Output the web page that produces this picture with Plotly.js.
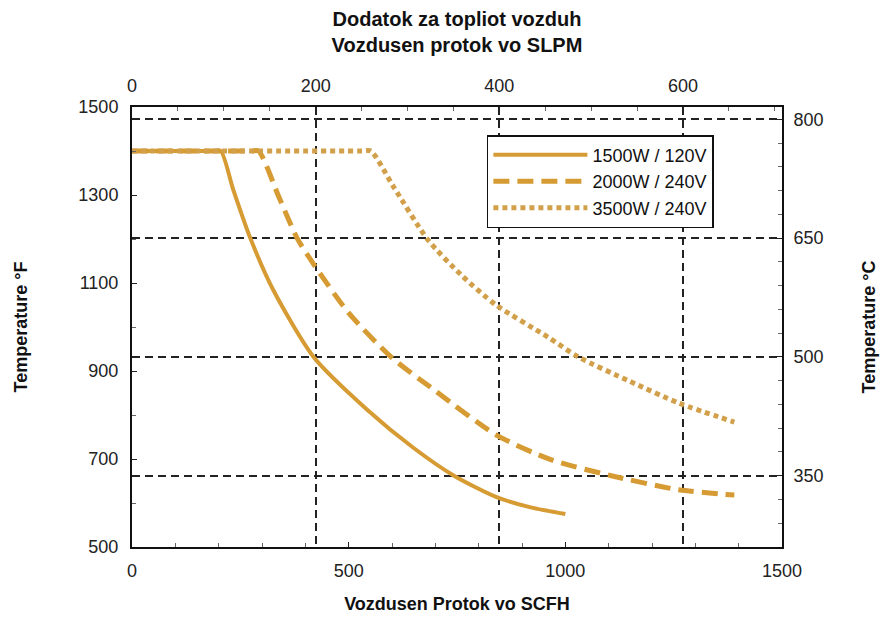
<!DOCTYPE html>
<html>
<head>
<meta charset="utf-8">
<script src="https://cdn.plot.ly/plotly-3.0.1.min.js"></script>
<style>html,body{margin:0;padding:0;background:#fff;}#chart{width:883px;height:624px;}</style>
</head>
<body>
<div id="chart"></div>
<script>
// Flow in SCFH (bottom axis), temperature in °F (left axis)
const seriesNames = ["1500W / 120V", "2000W / 240V", "3500W / 240V"];

const flow1500 = [0, 190, 205, 234, 273, 326, 419, 544, 650, 743, 840, 920, 1000];
const temp1500 = [1400, 1400, 1400, 1311, 1202, 1084, 932, 811, 725, 662, 614, 590, 575];

const flow2000 = [0, 275, 292, 340, 381, 419, 500, 600, 700, 840, 968, 1106, 1262, 1390];
const temp2000 = [1400, 1400, 1400, 1293, 1202, 1143, 1032, 930, 855, 755, 698, 662, 630, 618];

const flow3500 = [0, 530, 551, 604, 683, 760, 840, 960, 1030, 1150, 1262, 1390];
const temp3500 = [1400, 1400, 1400, 1318, 1198, 1118, 1050, 977, 932, 876, 827, 784];

// axis ranges and unit conversions
const scfhRange = [0, 1500];
const fRange = [500, 1500];
const SCFH_TO_SLPM = 0.4719;
const fToC = f => (f - 32) / 1.8;

const lineColor = "#D69B33";
const font = "Liberation Sans, Arial, sans-serif";

const traces = [
  {x: flow1500, y: temp1500, name: seriesNames[0], mode: "lines",
   line: {color: lineColor, width: 4, shape: "spline", smoothing: 0.7}},
  {x: flow2000, y: temp2000, name: seriesNames[1], mode: "lines",
   line: {color: lineColor, width: 5, dash: "16px,8px", shape: "spline", smoothing: 0.7}},
  {x: flow3500, y: temp3500, name: seriesNames[2], mode: "lines",
   line: {color: "#D2A04A", width: 5, dash: "5px,4px", shape: "spline", smoothing: 0.7}},
  // empty traces so the secondary (SLPM / °C) axes are drawn
  {x: [], y: [], xaxis: "x2", yaxis: "y", showlegend: false, hoverinfo: "skip"},
  {x: [], y: [], xaxis: "x", yaxis: "y2", showlegend: false, hoverinfo: "skip"}
];

const tickFont = {family: font, size: 18, color: "#222"};
const titleFont = {family: font, size: 18, color: "#111", weight: 700};

const layout = {
  width: 883, height: 624,
  margin: {l: 132, r: 101, t: 107, b: 77},
  paper_bgcolor: "#fff", plot_bgcolor: "#fff",
  showlegend: true,
  legend: {
    x: 0.546, y: 0.936, xanchor: "left", yanchor: "top",
    bordercolor: "#111", borderwidth: 1.5, bgcolor: "#fff",
    font: {family: font, size: 18, color: "#111"},
    itemwidth: 94, tracegroupgap: 0
  },
  xaxis: {
    range: scfhRange, side: "bottom", anchor: "y",
    tick0: 0, dtick: 500, ticks: "inside", ticklen: 5, tickcolor: "#222",
    minor: {dtick: 100, ticks: "inside", ticklen: 4, tickcolor: "#666", showgrid: false},
    showline: true, linecolor: "#111", linewidth: 2,
    showgrid: false, zeroline: false,
    tickfont: tickFont, ticklabelstandoff: 6,
    title: {text: "Vozdusen Protok vo SCFH", font: titleFont, standoff: 18}
  },
  xaxis2: {
    range: [scfhRange[0] * SCFH_TO_SLPM, scfhRange[1] * SCFH_TO_SLPM],
    overlaying: "x", side: "top", anchor: "y",
    tick0: 0, dtick: 200, ticks: "inside", ticklen: 5, tickcolor: "#222",
    minor: {dtick: 50, ticks: "inside", ticklen: 4, tickcolor: "#666", showgrid: false},
    showline: true, linecolor: "#111", linewidth: 2,
    showgrid: true, gridcolor: "#222", gridwidth: 2, griddash: "8px,5px",
    zeroline: false,
    tickfont: tickFont, ticklabelstandoff: 6,
    title: {text: "Dodatok za topliot vozduh<br>Vozdusen protok vo SLPM",
            font: {family: font, size: 20, color: "#111", weight: 700}, standoff: 18}
  },
  yaxis: {
    range: fRange, side: "left", anchor: "x",
    tick0: 500, dtick: 200, ticks: "inside", ticklen: 5, tickcolor: "#222",
    minor: {dtick: 100, ticks: "inside", ticklen: 4, tickcolor: "#666", showgrid: false},
    showline: true, linecolor: "#111", linewidth: 2,
    showgrid: false, zeroline: false,
    tickfont: tickFont, ticklabelstandoff: 8,
    title: {text: "Temperature °F", font: titleFont, standoff: 46}
  },
  yaxis2: {
    range: [fToC(fRange[0]), fToC(fRange[1])],
    overlaying: "y", side: "right", anchor: "x",
    tick0: 350, dtick: 150, ticks: "inside", ticklen: 5, tickcolor: "#222",
    minor: {tick0: 350, dtick: 30, ticks: "inside", ticklen: 4, tickcolor: "#666", showgrid: false},
    showline: true, linecolor: "#111", linewidth: 2,
    showgrid: true, gridcolor: "#222", gridwidth: 2, griddash: "8px,5px",
    zeroline: false,
    tickfont: tickFont, ticklabelstandoff: 6,
    title: {text: "Temperature °C", font: titleFont, standoff: 40}
  }
};

Plotly.newPlot("chart", traces, layout, {displayModeBar: false, staticPlot: true});
</script>
</body>
</html>
